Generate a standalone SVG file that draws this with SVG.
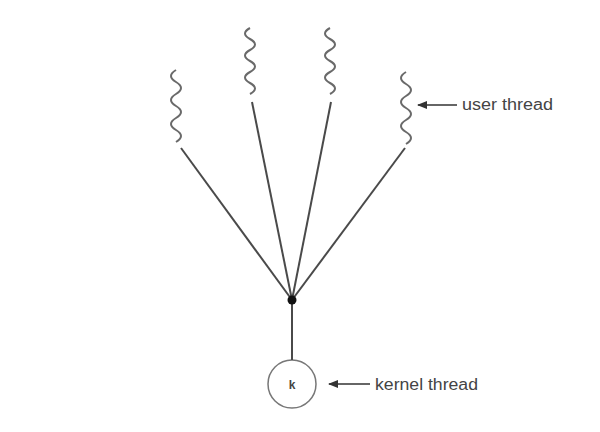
<svg xmlns="http://www.w3.org/2000/svg" width="600" height="432" viewBox="0 0 600 432">
<defs>
<style>
.wave{fill:none;stroke:#6a6a6a;stroke-width:2}
.line{stroke:#4a4a4a;stroke-width:2;fill:none}
.lbl{font-family:"Liberation Sans",Arial,sans-serif;font-size:16px;fill:#444}
</style>
<marker id="ah" markerWidth="10" markerHeight="8" refX="9" refY="4" orient="auto" markerUnits="userSpaceOnUse">
<path d="M0,0 L10,4 L0,8 Z" fill="#333"/>
</marker>
</defs>
<rect width="600" height="432" fill="#fff"/>
<g id="user-thread-1"><path class="wave" d="M176 70 q-10 6 0 12 t0 12 t0 12 t0 12 t0 12 t0 12"/></g>
<g id="user-thread-2"><path class="wave" d="M250 28 q-10 5.5 0 11 t0 11 t0 11 t0 11 t0 11 t0 11"/></g>
<g id="user-thread-3"><path class="wave" d="M330 28 q-10 5.5 0 11 t0 11 t0 11 t0 11 t0 11 t0 11"/></g>
<g id="user-thread-4"><path class="wave" d="M406 72 q-10 6 0 12 t0 12 t0 12 t0 12 t0 12 t0 12"/></g>
<g id="kernel-thread">
<circle cx="292" cy="384" r="24" fill="#fff" stroke="#777" stroke-width="1.5"/>
<text class="lbl" x="292" y="389" text-anchor="middle" font-weight="bold" style="font-size:12px">k</text>
</g>
<g id="connectors">
<line class="line" x1="181" y1="148" x2="292" y2="300"/>
<line class="line" x1="252" y1="102" x2="292" y2="300"/>
<line class="line" x1="331" y1="102" x2="292" y2="300"/>
<line class="line" x1="405" y1="148" x2="292" y2="300"/>
<line class="line" x1="292" y1="300" x2="292" y2="360" stroke="#777"/>
<circle cx="292" cy="300" r="4.5" fill="#111"/>
<line x1="457" y1="105" x2="418" y2="105" stroke="#333" stroke-width="1.5" marker-end="url(#ah)"/>
<line x1="370" y1="384" x2="329" y2="384" stroke="#333" stroke-width="1.5" marker-end="url(#ah)"/>
</g>
<text class="lbl" x="462" y="110" textLength="91" lengthAdjust="spacingAndGlyphs">user thread</text>
<text class="lbl" x="375" y="390" textLength="103" lengthAdjust="spacingAndGlyphs">kernel thread</text>
</svg>
